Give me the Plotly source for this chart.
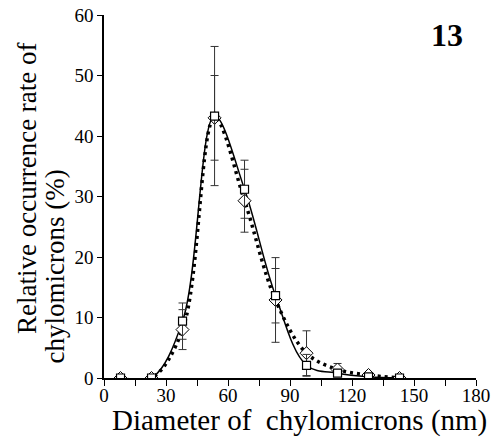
import plotly.graph_objects as go

# Data
diam = [8, 23, 38, 53.5, 68, 83, 98, 113, 128, 143]
rate_sq = [0, 0, 9.4, 43.3, 31.2, 13.6, 2.1, 0.8, 0.2, 0]
err_sq = [0, 0, 3.0, 11.5, 4.8, 4.5, 1.8, 0.5, 0.3, 0]
rate_di = [0, 0, 8.0, 43.0, 29.3, 12.9, 4.1, 1.4, 0.5, 0]
err_di = [0, 0, 3.3, 7.0, 5.2, 7.0, 3.7, 1.0, 0.4, 0]

x_ticks = [0, 30, 60, 90, 120, 150, 180]
y_ticks = [0, 10, 20, 30, 40, 50, 60]

FONT = "Liberation Serif"

# plot area in window px = [104..476] x [15..378]
PX0, PX1, PY0, PY1 = 104, 476, 15, 378
W, H = 492, 442


def px(x):
    return (x - PX0) / (PX1 - PX0)


def py(y):
    return (PY1 - y) / (PY1 - PY0)


fig = go.Figure()

# dotted curve with diamonds
fig.add_trace(go.Scatter(
    x=diam, y=rate_di, mode="lines",
    line=dict(color="black", width=3.5, dash="3px,4px", shape="spline", smoothing=1.0),
    showlegend=False, hoverinfo="skip"))
# solid curve with squares
fig.add_trace(go.Scatter(
    x=diam, y=rate_sq, mode="lines",
    line=dict(color="black", width=1.5, shape="spline", smoothing=1.0),
    showlegend=False, hoverinfo="skip"))
# diamond markers + error bars
fig.add_trace(go.Scatter(
    x=diam, y=rate_di, mode="markers",
    marker=dict(symbol="diamond", size=10, color="white", line=dict(color="black", width=1)),
    error_y=dict(type="data", array=err_di, visible=True, color="#333", thickness=1, width=4),
    showlegend=False))
# square markers + error bars
fig.add_trace(go.Scatter(
    x=diam, y=rate_sq, mode="markers",
    marker=dict(symbol="square", size=8, color="white", line=dict(color="black", width=1.2)),
    error_y=dict(type="data", array=err_sq, visible=True, color="#333", thickness=1, width=4),
    showlegend=False))

fig.update_layout(
    width=W, height=H,
    margin=dict(l=PX0, r=W - PX1, t=PY0, b=H - PY1, autoexpand=False),
    paper_bgcolor="white", plot_bgcolor="white",
    font=dict(family=FONT, color="black", size=19),
    xaxis=dict(range=[0, 180], tickvals=x_ticks, ticktext=[str(v) for v in x_ticks],
               automargin=False, ticklabelstandoff=-7, ticklabeloverflow="allow",
               showgrid=False, zeroline=False, showline=True, linecolor="black", linewidth=1.5,
               ticks="outside", ticklen=6, tickwidth=1, tickcolor="black",
               minor=dict(dtick=15, tick0=0, ticks="outside", ticklen=6, tickwidth=1, tickcolor="black"),
               tickfont=dict(size=19, family=FONT)),
    yaxis=dict(range=[0, 60], tickvals=y_ticks, ticktext=[str(v) for v in y_ticks],
               automargin=False, ticklabeloverflow="allow",
               showgrid=False, zeroline=False, showline=True, linecolor="black", linewidth=1.5,
               ticks="outside", ticklen=5, tickwidth=1, tickcolor="black",
               tickfont=dict(size=19, family=FONT)),
    annotations=[
        dict(text="Diameter of  chylomicrons (nm)", xref="paper", yref="paper",
             x=px(299), y=py(420), xanchor="center", yanchor="middle",
             showarrow=False, font=dict(size=29, family=FONT)),
        dict(text="Relative occurrence rate of", xref="paper", yref="paper",
             x=px(27), y=py(188), xanchor="center", yanchor="middle",
             textangle=-90, showarrow=False, font=dict(size=27, family=FONT)),
        dict(text="chylomicrons (%)", xref="paper", yref="paper",
             x=px(54), y=py(266.5), xanchor="center", yanchor="middle",
             textangle=-90, showarrow=False, font=dict(size=27, family=FONT)),
        dict(text="<b>13</b>", xref="paper", yref="paper",
             x=px(447), y=py(35), xanchor="center", yanchor="middle",
             showarrow=False, font=dict(size=32, family=FONT)),
    ],
)

# remove the browser's default 8px body margin so the figure sits at the window origin
fig.write_html("out.html", config={"displayModeBar": False},
               post_script="document.body.style.margin='0';")
